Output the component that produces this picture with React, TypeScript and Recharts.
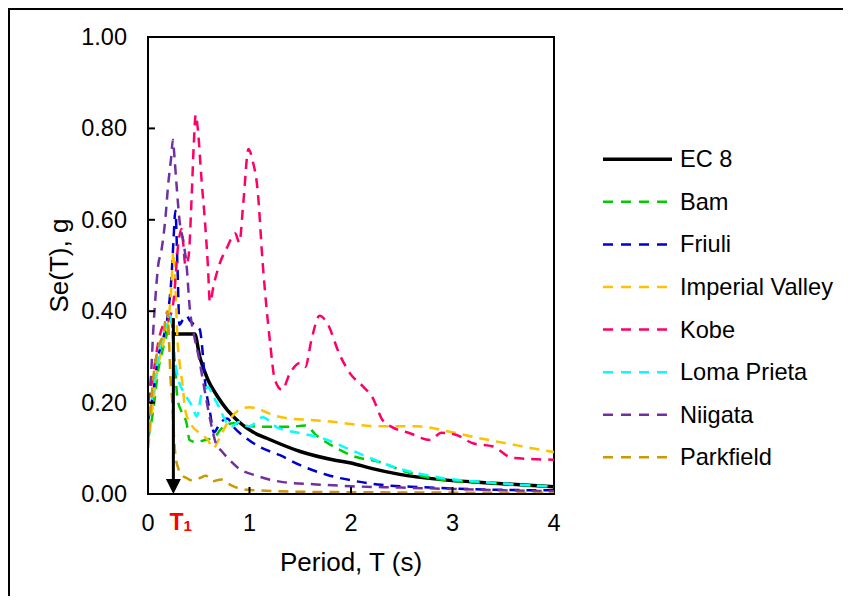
import React from 'react';
import { LineChart, Line, XAxis, YAxis, ReferenceLine, ReferenceArea, Legend, Label } from 'recharts';

const FONT = '"Liberation Sans", Arial, sans-serif';

// period (s) / spectral acceleration (g)
const ec8T = [0.25, 0.46, 0.51, 0.59, 0.68, 0.78, 0.9, 1.03, 1.17, 1.5, 1.82, 2.0, 2.2, 2.48, 2.87, 3.37, 4.0];
const ec8Se = [0.35, 0.35, 0.3, 0.25, 0.215, 0.184, 0.157, 0.136, 0.122, 0.093, 0.075, 0.068, 0.056, 0.043, 0.032, 0.024, 0.016];

const bamT = [0, 0.05, 0.1, 0.15, 0.2, 0.23, 0.26, 0.29, 0.33, 0.38, 0.41, 0.46, 0.56, 0.66, 0.71, 0.84, 1.0, 1.2, 1.4, 1.55, 1.66, 1.86, 2.02, 2.28, 2.55, 2.87, 3.37, 4.0];
const bamSe = [0.12, 0.18, 0.27, 0.32, 0.36, 0.38, 0.3, 0.21, 0.18, 0.155, 0.118, 0.114, 0.118, 0.125, 0.14, 0.155, 0.148, 0.147, 0.147, 0.15, 0.128, 0.1, 0.083, 0.07, 0.048, 0.032, 0.024, 0.016];

const friuliT = [0, 0.05, 0.1, 0.15, 0.2, 0.23, 0.25, 0.27, 0.29, 0.31, 0.34, 0.38, 0.41, 0.46, 0.51, 0.53, 0.56, 0.61, 0.65, 0.71, 0.78, 0.85, 0.97, 1.1, 1.3, 1.5, 1.76, 2.0, 2.3, 2.7, 3.3, 4.0];
const friuliSe = [0.16, 0.22, 0.3, 0.34, 0.4, 0.47, 0.55, 0.62, 0.5, 0.37, 0.38, 0.39, 0.38, 0.37, 0.36, 0.33, 0.25, 0.18, 0.135, 0.155, 0.165, 0.145, 0.122, 0.103, 0.085, 0.063, 0.042, 0.03, 0.02, 0.015, 0.01, 0.008];

const imperialT = [0, 0.05, 0.1, 0.15, 0.2, 0.23, 0.25, 0.27, 0.29, 0.31, 0.34, 0.37, 0.43, 0.51, 0.59, 0.64, 0.7, 0.78, 0.9, 1.0, 1.1, 1.23, 1.4, 1.6, 1.82, 2.0, 2.28, 2.65, 2.94, 3.2, 3.53, 3.89, 4.0];
const imperialSe = [0.1, 0.2, 0.28, 0.33, 0.38, 0.45, 0.53, 0.45, 0.34, 0.29, 0.24, 0.18, 0.15, 0.133, 0.118, 0.1, 0.12, 0.155, 0.184, 0.19, 0.185, 0.173, 0.165, 0.162, 0.158, 0.153, 0.148, 0.148, 0.138, 0.125, 0.111, 0.096, 0.092];

const kobeT = [0, 0.05, 0.1, 0.15, 0.2, 0.25, 0.3, 0.33, 0.37, 0.4, 0.43, 0.45, 0.47, 0.49, 0.53, 0.56, 0.59, 0.61, 0.65, 0.7, 0.78, 0.86, 0.9, 0.94, 0.99, 1.03, 1.08, 1.13, 1.2, 1.25, 1.32, 1.4, 1.5, 1.55, 1.61, 1.69, 1.76, 1.89, 1.99, 2.12, 2.21, 2.31, 2.4, 2.58, 2.78, 2.89, 3.04, 3.2, 3.4, 3.59, 4.0];
const kobeSe = [0.2, 0.26, 0.33, 0.37, 0.38, 0.42, 0.55, 0.58, 0.5, 0.52, 0.65, 0.76, 0.83, 0.8, 0.68, 0.6, 0.5, 0.42, 0.46, 0.5, 0.54, 0.57, 0.55, 0.64, 0.755, 0.73, 0.665, 0.505, 0.337, 0.25, 0.228, 0.265, 0.287, 0.278, 0.337, 0.39, 0.376, 0.304, 0.264, 0.235, 0.212, 0.162, 0.147, 0.133, 0.118, 0.134, 0.129, 0.111, 0.104, 0.079, 0.075];

const lomaT = [0, 0.05, 0.1, 0.15, 0.2, 0.22, 0.26, 0.3, 0.36, 0.44, 0.48, 0.53, 0.59, 0.64, 0.7, 0.76, 0.82, 0.9, 1.0, 1.13, 1.27, 1.5, 1.72, 1.96, 2.12, 2.41, 2.87, 3.37, 4.0];
const lomaSe = [0.17, 0.22, 0.3, 0.35, 0.38, 0.39, 0.3, 0.25, 0.22, 0.19, 0.17, 0.22, 0.234, 0.215, 0.19, 0.162, 0.147, 0.158, 0.148, 0.168, 0.146, 0.133, 0.122, 0.1, 0.085, 0.06, 0.036, 0.025, 0.016];

const niigataT = [0, 0.03, 0.05, 0.08, 0.1, 0.13, 0.17, 0.2, 0.23, 0.245, 0.26, 0.28, 0.31, 0.35, 0.38, 0.41, 0.46, 0.5, 0.54, 0.58, 0.62, 0.67, 0.72, 0.78, 0.9, 1.07, 1.33, 1.66, 2.0, 2.5, 3.0, 3.5, 4.0];
const niigataSe = [0.2, 0.26, 0.35, 0.45, 0.5, 0.53, 0.6, 0.68, 0.74, 0.775, 0.74, 0.68, 0.6, 0.55, 0.5, 0.41, 0.34, 0.3, 0.25, 0.2, 0.155, 0.11, 0.095, 0.08, 0.055, 0.04, 0.026, 0.021, 0.017, 0.014, 0.011, 0.008, 0.006];

const parkfieldT = [0, 0.03, 0.06, 0.1, 0.15, 0.19, 0.21, 0.22, 0.24, 0.25, 0.27, 0.3, 0.34, 0.38, 0.43, 0.51, 0.57, 0.64, 0.72, 0.81, 0.9, 1.0, 1.5, 2.0, 3.0, 4.0];
const parkfieldSe = [0.1, 0.2, 0.27, 0.32, 0.35, 0.4, 0.32, 0.26, 0.2, 0.15, 0.085, 0.055, 0.04, 0.035, 0.03, 0.035, 0.04, 0.028, 0.032, 0.02, 0.012, 0.009, 0.005, 0.004, 0.003, 0.002];

const xTicks = [0, 1, 2, 3, 4];
const yTicks = [0, 0.2, 0.4, 0.6, 0.8, 1.0];

// fundamental period marker
const T1 = 0.25;
const T1_TOP = 0.385;

const zip = (t: number[], se: number[]) => t.map((T, i) => ({ T, se: se[i] }));

const series = [
  { name: 'EC 8', color: '#000000', solid: true, data: zip(ec8T, ec8Se) },
  { name: 'Bam', color: '#00CC00', solid: false, data: zip(bamT, bamSe) },
  { name: 'Friuli', color: '#0000CC', solid: false, data: zip(friuliT, friuliSe) },
  { name: 'Imperial Valley', color: '#FFC000', solid: false, data: zip(imperialT, imperialSe) },
  { name: 'Kobe', color: '#FF0066', solid: false, data: zip(kobeT, kobeSe) },
  { name: 'Loma Prieta', color: '#00FFFF', solid: false, data: zip(lomaT, lomaSe) },
  { name: 'Niigata', color: '#7030A0', solid: false, data: zip(niigataT, niigataSe) },
  { name: 'Parkfield', color: '#CC9900', solid: false, data: zip(parkfieldT, parkfieldSe) },
];

function XTick({ x, y, payload }: any) {
  const v = payload.value;
  return (
    <g>
      {v > 0 && v < 4 && <line x1={x} x2={x} y1={y} y2={y - 7} stroke="#000" strokeWidth={2} />}
      <text x={x} y={y + 37} textAnchor="middle" fontSize={23.5} fontFamily={FONT} fill="#000">
        {v}
      </text>
    </g>
  );
}

function YTick({ x, y, payload }: any) {
  const v = payload.value;
  return (
    <g>
      {v > 0 && v < 1 && <line x1={x} x2={x + 7} y1={y} y2={y} stroke="#000" strokeWidth={2} />}
      <text x={x - 21} y={y + 8} textAnchor="end" fontSize={23.5} fontFamily={FONT} fill="#000">
        {v.toFixed(2)}
      </text>
    </g>
  );
}

function YTitle({ viewBox }: any) {
  const bx = viewBox.x + viewBox.width - 80;
  const cy = viewBox.y + viewBox.height / 2;
  return (
    <text x={bx} y={cy} transform={`rotate(-90, ${bx}, ${cy})`} textAnchor="middle" fontSize={26} fontFamily={FONT} fill="#000">
      Se(T), g
    </text>
  );
}

function XTitle({ viewBox }: any) {
  return (
    <text x={viewBox.x + viewBox.width / 2} y={viewBox.y + 77} textAnchor="middle" fontSize={26} fontFamily={FONT} fill="#000">
      Period, T (s)
    </text>
  );
}

function T1Arrow({ x1, y1, x2, y2 }: any) {
  const top = Math.min(y1, y2);
  const bottom = Math.max(y1, y2);
  return (
    <g>
      <line x1={x1} x2={x2} y1={top} y2={bottom - 12} stroke="#000" strokeWidth={3} />
      <polygon points={`${x1},${bottom} ${x1 - 7.5},${bottom - 15} ${x1 + 7.5},${bottom - 15}`} fill="#000" />
      <text x={x1 - 4} y={bottom + 36} fontSize={23} fontWeight="bold" fontFamily={FONT} fill="#FF0000">
        T<tspan fontSize={15} dy={1}>1</tspan>
      </text>
    </g>
  );
}

function SeriesLegend() {
  return (
    <svg width={250} height={350}>
      {series.map((s, i) => {
        const cy = 29.3 + i * 42.57;
        return (
          <g key={s.name}>
            <line
              x1={0}
              x2={s.solid ? 69 : 64}
              y1={cy}
              y2={cy}
              stroke={s.color}
              strokeWidth={s.solid ? 3.5 : 2.5}
              strokeDasharray={s.solid ? undefined : '10 8'}
            />
            <text x={77} y={cy + 8} fontSize={23.6} fontFamily={FONT} fill="#000">
              {s.name}
            </text>
          </g>
        );
      })}
    </svg>
  );
}

export default function App() {
  return (
    <div style={{ width: 833, height: 586, borderLeft: '2px solid #000', borderTop: '2px solid #000' }}>
      <LineChart width={833} height={586} margin={{ top: 27, right: 289, bottom: 62, left: 78 }}>
        <XAxis
          type="number"
          dataKey="T"
          domain={[0, 4]}
          ticks={xTicks}
          allowDataOverflow
          height={40}
          tickSize={0}
          tickMargin={0}
          tickLine={false}
          tick={<XTick />}
          axisLine={{ stroke: '#000', strokeWidth: 2 }}
        >
          <Label content={<XTitle />} />
        </XAxis>
        <YAxis
          type="number"
          domain={[0, 1]}
          ticks={yTicks}
          allowDataOverflow
          width={60}
          tickSize={0}
          tickMargin={0}
          tickLine={false}
          tick={<YTick />}
          axisLine={{ stroke: '#000', strokeWidth: 2 }}
        >
          <Label content={<YTitle />} />
        </YAxis>
        {series.map((s) => (
          <Line
            key={s.name}
            data={s.data}
            dataKey="se"
            name={s.name}
            type="monotone"
            stroke={s.color}
            strokeWidth={s.solid ? 3.5 : 2.5}
            strokeDasharray={s.solid ? undefined : '10 7'}
            dot={false}
            activeDot={false}
            isAnimationActive={false}
          />
        ))}
        <ReferenceLine
          segment={[
            { x: T1, y: T1_TOP },
            { x: T1, y: 0 },
          ]}
          shape={<T1Arrow />}
        />
        <ReferenceArea x1={0} x2={4} y1={0} y2={1} fill="none" stroke="#000" strokeWidth={2} />
        <Legend
          layout="vertical"
          align="center"
          verticalAlign="middle"
          content={<SeriesLegend />}
          wrapperStyle={{ left: 593, top: 120, width: 250 }}
        />
      </LineChart>
    </div>
  );
}
